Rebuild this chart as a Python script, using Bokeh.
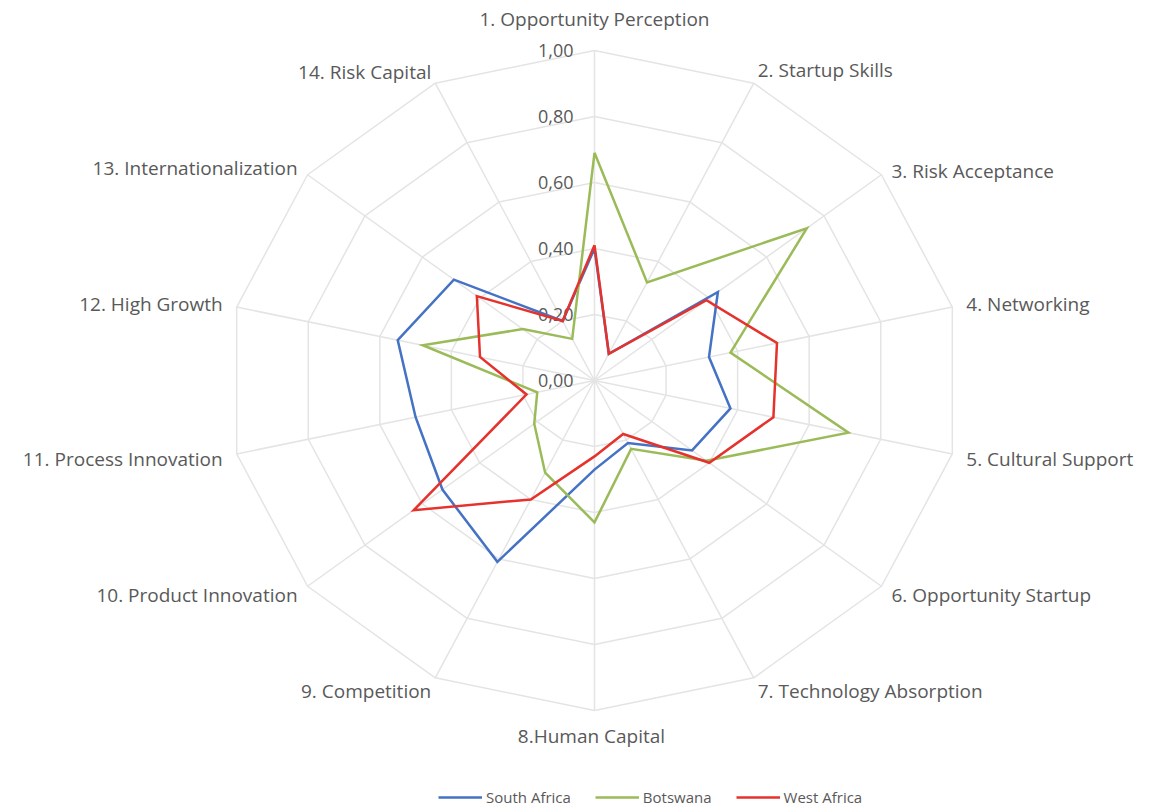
import numpy as np
from bokeh.plotting import figure
from bokeh.models import Range1d, Legend, LegendItem, ColumnDataSource
from bokeh.core.properties import value
from bokeh.embed import file_html
from bokeh.resources import INLINE

# Entrepreneurship pillar scores (0-1) by region
categories = [
    "1. Opportunity Perception", "2. Startup Skills", "3. Risk Acceptance",
    "4. Networking", "5. Cultural Support", "6. Opportunity Startup",
    "7. Technology Absorption", "8.Human Capital", "9. Competition",
    "10. Product Innovation", "11. Process Innovation", "12. High Growth",
    "13. Internationalization", "14. Risk Capital",
]
south_africa = [0.40, 0.09, 0.43, 0.32, 0.38, 0.34, 0.21, 0.27, 0.61, 0.53, 0.50, 0.55, 0.49, 0.20]
botswana = [0.69, 0.33, 0.74, 0.38, 0.71, 0.39, 0.23, 0.43, 0.31, 0.21, 0.16, 0.48, 0.25, 0.14]
west_africa = [0.41, 0.09, 0.39, 0.51, 0.50, 0.40, 0.18, 0.23, 0.40, 0.63, 0.19, 0.32, 0.41, 0.20]
series_names = ["South Africa", "Botswana", "West Africa"]
tick_values = [0.0, 0.2, 0.4, 0.6, 0.8, 1.0]
tick_labels = ["0,00", "0,20", "0,40", "0,60", "0,80", "1,00"]

# layout / style
W, H = 1151, 809
CX, CY = 594, 380          # centre of the web, px from top-left
SX, SY = 367, 330          # px per unit radius (horizontal / vertical)
colors = ["#4472C4", "#9BBB59", "#E5322D"]
grid_color = "#E4E4E4"
text_color = "#595959"
font = "Open Sans"
label_size = "19px"
tick_size = "18px"
legend_size = "15px"

# label offsets from the end of each spoke (px, right / down) and alignment
label_dx = [0, 4, 10, 14, 14, 10, 4, -3, -4, -10, -14, -14, -10, -4]
label_dy = [-32, -13, -4, -3, 5, 9, 13, 25, 13, 9, 5, -3, -7, -11]
label_align = ["center"] + ["left"] * 6 + ["center"] + ["right"] * 6

n = len(categories)
ang = np.arange(n) * 2 * np.pi / n
sin_a, cos_a = np.sin(ang), np.cos(ang)

p = figure(
    width=W, height=H,
    x_range=Range1d(-CX / SX, (W - CX) / SX),
    y_range=Range1d(-(H - CY) / SY, CY / SY),
    x_axis_location=None, y_axis_location=None,
    output_backend="svg", toolbar_location=None, min_border=0,
)
p.xgrid.visible = False
p.ygrid.visible = False
p.outline_line_color = None
p.background_fill_color = "white"
p.border_fill_color = "white"

# polygon grid rings
ring_xs, ring_ys = [], []
for t in tick_values[1:]:
    ring_xs.append(list(np.append(t * sin_a, t * sin_a[0])))
    ring_ys.append(list(np.append(t * cos_a, t * cos_a[0])))
p.multi_line(ring_xs, ring_ys, line_color=grid_color, line_width=1.5)

# spokes
top = tick_values[-1]
p.segment(x0=np.zeros(n), y0=np.zeros(n), x1=top * sin_a, y1=top * cos_a,
          line_color=grid_color, line_width=1.5)

# radial tick labels along the first spoke
p.text(x=np.zeros(len(tick_values)), y=tick_values, text=tick_labels,
       x_offset=-21, text_align="right", text_baseline="middle",
       text_color=text_color, text_font=value(font), text_font_size=tick_size)

# category labels
lab_src = ColumnDataSource(dict(
    x=top * sin_a, y=top * cos_a, text=categories,
    dx=label_dx, dy=label_dy, align=label_align,
))
p.text(x="x", y="y", text="text", x_offset="dx", y_offset="dy",
       text_align="align", text_baseline="middle", source=lab_src,
       text_color=text_color, text_font=value(font), text_font_size=label_size)

# data series
renderers = []
for vals, col in zip([south_africa, botswana, west_africa], colors):
    v = np.array(vals)
    xs = np.append(v * sin_a, v[0] * sin_a[0])
    ys = np.append(v * cos_a, v[0] * cos_a[0])
    r = p.line(xs, ys, line_color=col, line_width=2.5, line_join="miter")
    renderers.append(r)

legend = Legend(
    items=[LegendItem(label=nm, renderers=[r]) for nm, r in zip(series_names, renderers)],
    orientation="horizontal", location=(438, 2),
    glyph_width=44, glyph_height=20, label_height=20, label_standoff=4,
    spacing=24, padding=0, margin=0,
    border_line_color=None, background_fill_alpha=0,
    label_text_font=font, label_text_font_size=legend_size, label_text_color=text_color,
)
p.add_layout(legend)

open("out.html", "w").write(file_html(p, INLINE))
